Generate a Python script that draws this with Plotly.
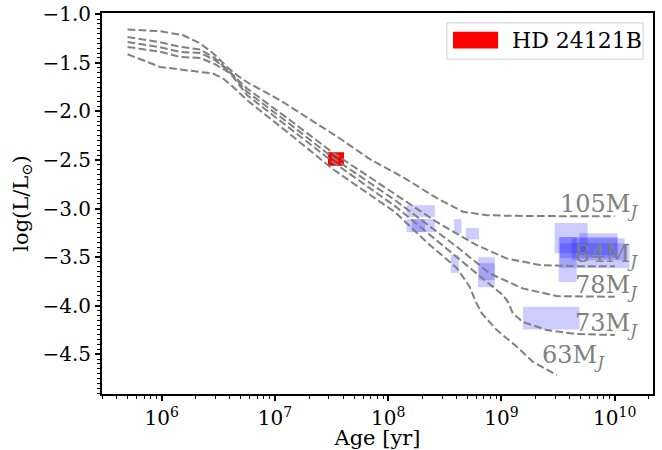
import numpy as np
import plotly.graph_objects as go

# ---------------- data ----------------
# evolutionary tracks (age [yr], log L/Lsun)
age_105 = [5.0e5, 9.7e5, 1.55e6, 2.19e6, 2.84e6, 3.78e6, 4.63e6, 5.68e6, 1.11e7, 3.75e7, 6.9e7,
           1.35e8, 2.69e8, 4.56e8, 7.42e8, 1.18e9, 3.27e9, 1.0e10]
lum_105 = [-1.157, -1.175, -1.216, -1.301, -1.401, -1.542, -1.628, -1.700, -1.885, -2.279, -2.492,
           -2.677, -2.893, -3.032, -3.068, -3.075, -3.078, -3.078]
age_84 = [5.0e5, 9.7e5, 1.46e6, 2.19e6, 2.96e6, 3.86e6, 5.68e6, 1.36e7, 3.25e7, 1.15e8, 2.69e8,
          6.05e8, 1.11e9, 2.18e9, 4.61e9, 1.0e10]
lum_84 = [-1.234, -1.288, -1.336, -1.363, -1.453, -1.576, -1.764, -2.091, -2.425, -2.852, -3.140,
          -3.377, -3.513, -3.582, -3.593, -3.593]
age_78 = [5.0e5, 9.7e5, 1.46e6, 2.19e6, 2.96e6, 3.94e6, 5.68e6, 1.36e7, 3.25e7, 1.15e8, 4.04e8,
          7.88e8, 1.54e9, 3.08e9, 1.0e10]
lum_78 = [-1.285, -1.340, -1.388, -1.398, -1.473, -1.586, -1.799, -2.132, -2.476, -2.914, -3.394,
          -3.668, -3.822, -3.901, -3.908]
age_73 = [5.0e5, 9.7e5, 1.46e6, 2.19e6, 2.96e6, 4.02e6, 5.68e6, 1.36e7, 3.25e7, 1.15e8, 4.04e8,
          7.88e8, 1.03e9, 1.14e9, 1.26e9, 1.54e9, 2.51e9, 4.61e9, 1.0e10]
lum_73 = [-1.336, -1.386, -1.439, -1.450, -1.514, -1.607, -1.833, -2.173, -2.520, -2.975, -3.497,
          -3.771, -3.891, -3.960, -4.079, -4.166, -4.251, -4.292, -4.302]
age_63 = [5.0e5, 9.7e5, 1.46e6, 2.84e6, 3.49e6, 4.27e6, 5.68e6, 1.36e7, 3.25e7, 1.15e8, 2.19e8,
          4.04e8, 5.25e8, 5.93e8, 6.70e8, 9.10e8, 1.37e9, 1.89e9, 3.08e9]
lum_63 = [-1.412, -1.542, -1.569, -1.610, -1.662, -1.748, -1.885, -2.235, -2.595, -3.037, -3.346,
          -3.613, -3.806, -3.960, -4.079, -4.251, -4.423, -4.577, -4.714]
track_masses = ["105", "84", "78", "73", "63"]

# comparison objects (age range, luminosity range)
blue_age_lo = [1.45e8, 1.45e8, 1.61e8, 3.82e8, 4.84e8, 3.57e8, 6.22e8, 6.31e8, 1.55e9,
               2.95e9, 3.20e9, 3.27e9, 4.17e9, 4.90e9, 3.27e9]
blue_age_hi = [2.58e8, 2.58e8, 2.11e8, 4.44e8, 6.34e8, 4.20e8, 8.73e8, 8.73e8, 4.90e9,
               5.77e9, 4.61e9, 1.06e10, 1.22e10, 1.06e10, 1.35e10]
blue_lum_lo = [-3.088, -3.243, -3.243, -3.256, -3.318, -3.662, -3.809, -3.737, -4.244,
               -3.459, -3.757, -3.510, -3.531, -3.479, -3.613]
blue_lum_hi = [-2.965, -3.109, -3.109, -3.109, -3.199, -3.479, -3.500, -3.562, -4.011,
               -3.150, -3.294, -3.294, -3.305, -3.253, -3.356]

# HD 24121B
hd_name = "HD 24121B"
hd_age = [2.94e7, 4.07e7]
hd_lum = [-2.56, -2.42]

# axis ticks
x_tickvals = [1e6, 1e7, 1e8, 1e9, 1e10]
x_ticktext = ["10<sup>6</sup>", "10<sup>7</sup>", "10<sup>8</sup>", "10<sup>9</sup>", "10<sup>10</sup>"]

# ---------------- figure ----------------
FONT = "DejaVu Serif"
fig = go.Figure()


def rect_xy(a0, a1, l0, l1):
    return [a0, a1, a1, a0, a0], [l0, l0, l1, l1, l0]


for a0, a1, l0, l1 in zip(blue_age_lo, blue_age_hi, blue_lum_lo, blue_lum_hi):
    xs, ys = rect_xy(a0, a1, l0, l1)
    fig.add_trace(go.Scatter(x=xs, y=ys, mode="lines", fill="toself",
                             fillcolor="rgba(0,0,255,0.2)", line=dict(width=0),
                             showlegend=False, hoverinfo="skip"))

xs, ys = rect_xy(hd_age[0], hd_age[1], hd_lum[0], hd_lum[1])
fig.add_trace(go.Scatter(x=xs, y=ys, mode="lines", fill="toself", fillcolor="red",
                         line=dict(width=0, color="red"), name=hd_name, showlegend=False))

tracks = [(age_105, lum_105), (age_84, lum_84), (age_78, lum_78), (age_73, lum_73), (age_63, lum_63)]
for (ages, lums), m in zip(tracks, track_masses):
    fig.add_trace(go.Scatter(x=ages, y=lums, mode="lines", showlegend=False,
                             line=dict(color="grey", width=2, dash="7.7px,3.3px"),
                             name=m + " MJ"))

label_shift = {"105": (25, -7), "84": (25, -7), "78": (25, -7), "73": (25, -7), "63": (50, 1)}
for (ages, lums), m in zip(tracks, track_masses):
    dx, dy = label_shift[m]
    fig.add_annotation(x=np.log10(ages[-1]), y=lums[-1], xref="x", yref="y",
                       text=m + "M<sub><i>J</i></sub>", showarrow=False,
                       xanchor="right", yanchor="bottom", xshift=dx, yshift=dy,
                       font=dict(family=FONT, size=24, color="grey"))

# legend (framed key in the upper right corner)
fig.add_shape(type="rect", xref="paper", yref="paper", x0=0.626, x1=0.982, y0=0.879, y1=0.974,
              line=dict(color="#d0d0d0", width=1), fillcolor="rgba(255,255,255,0.8)", layer="above")
fig.add_shape(type="rect", xref="paper", yref="paper", x0=0.637, x1=0.719, y0=0.907, y1=0.951,
              line=dict(width=0), fillcolor="red", layer="above")
fig.add_annotation(xref="paper", yref="paper", x=0.740, y=0.929, xanchor="left", yanchor="middle",
                   text=hd_name, showarrow=False, font=dict(family=FONT, size=22, color="black"))

fig.update_layout(
    width=662, height=450,
    margin=dict(l=102, r=9, t=13, b=56),
    paper_bgcolor="white", plot_bgcolor="white",
    font=dict(family=FONT, size=20, color="black"),
    showlegend=False,
)
fig.update_xaxes(
    type="log", range=[5.473, 10.338], automargin=False, ticklabeloverflow="allow",
    tickmode="array", tickvals=x_tickvals, ticktext=x_ticktext,
    showline=True, linecolor="black", linewidth=2, mirror=True,
    ticks="outside", ticklen=5, tickwidth=1.5, tickcolor="black",
    showgrid=False, zeroline=False,
    minor=dict(ticks="outside", ticklen=3, tickwidth=1.2, tickcolor="black", showgrid=False,
               tickmode="array",
               tickvals=[k * 10.0 ** n for n in range(5, 11) for k in range(2, 10)]),
    title=dict(text="Age [yr]", font=dict(family=FONT, size=21), standoff=6),
)
fig.update_yaxes(
    range=[-4.909, -0.987], tick0=-1.0, dtick=0.5, tickformat=".1f", automargin=False,
    ticklabeloverflow="allow",
    showline=True, linecolor="black", linewidth=2, mirror=True,
    ticks="outside", ticklen=5, tickwidth=1.5, tickcolor="black",
    showgrid=False, zeroline=False,
    minor=dict(ticks="outside", ticklen=3, tickwidth=1.2, tickcolor="black", dtick=0.05,
               showgrid=False),
    title=dict(text="log(L/L<sub>⊙</sub>)", font=dict(family=FONT, size=21), standoff=8),
)

# remove the default page margin so the figure fills the window exactly
fig.write_html("out.html", config={"displayModeBar": False},
               post_script="document.body.style.margin='0';")
